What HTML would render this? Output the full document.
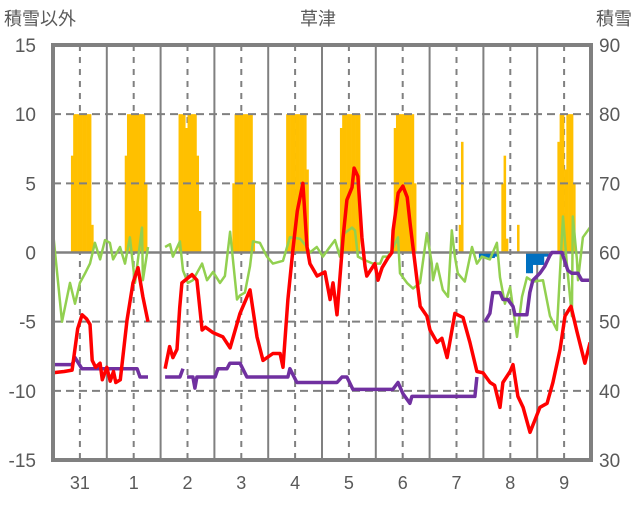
<!DOCTYPE html>
<html><head><meta charset="utf-8"><style>
body{margin:0;background:#fff}
svg text{font-family:"Liberation Sans","Noto Sans CJK JP",sans-serif;fill:#595959}
</style></head><body>
<svg id="c" width="636" height="501" viewBox="0 0 636 501" xmlns="http://www.w3.org/2000/svg">
<text x="4" y="25" font-size="18">積雪以外</text>
<text x="318" y="25" font-size="18" text-anchor="middle">草津</text>
<text x="632" y="25" font-size="18" text-anchor="end">積雪</text>
<g id="bars"></g><g id="grid"></g><g id="lines"></g><g id="axes"></g>
</svg>
<script>
const dayLabels=['31','1','2','3','4','5','6','7','8','9'];
const leftTicks=[15,10,5,0,-5,-10,-15];
const rightTicks=[90,80,70,60,50,40,30];
// orange bars: [hour, value]
const orangeHours=[8,9,10,11,12,13,14,15,16,17, 32,33,34,35,36,37,38,39,40,41, 56,57,58,59,60,61,62,63,64,65, 80,81,82,83,84,85,86,87,88,89, 104,105,106,107,108,109,110,111,112,113, 128,129,130,131,132,133,134,135,136, 152,153,154,155,156,157,158,159,160,161, 181,182, 200,201,202,207, 225,226,227,228,229,230,231,232];
const orangeVals=[7,10,10,10,10,10,10,10,10,2, 7,10,10,10,10,10,10,10,10,5, 10,10,10,9,10,10,10,10,7,3, 5,10,10,10,10,10,10,10,10,5, 10,10,10,10,10,10,10,10,10,6, 9,10,10,10,10,10,10,10,10, 9,10,10,10,10,10,10,10,10,5, 2,8, 5,7,1,2, 8,10,10,6,10,10,10,5];
const blueHours=[190,191,192,193,194,195,196,197,211,212,213,214,215,216,217,218,219,220];
const blueVals=[-0.4,-0.4,-0.4,-0.4,-0.4,-0.4,-0.4,-0.3,-1.5,-1.5,-1.5,-0.9,-0.9,-0.9,-0.9,-0.9,-0.3,-0.3];
const redT=[0,5,8.5,11,13,15,16.5,17.5,19,21,22,24,25.5,27,28,30,33,35.7,37.9,40.1,42.4,null,50,52,53.5,55.3,56.5,57.5,62,64.2,66.5,68,71.4,75.8,79,83.4,87.9,91,93.7,98.1,101.3,102.6,104.8,107,109,111.5,113.3,114.6,117.8,121.3,123.6,124.9,126.7,129.4,131.1,133.4,134.3,136,137.8,139.2,140,143.6,145,146.8,149.4,151.2,151.7,154,156.1,158,159.3,161.5,163.8,166.8,168.2,171.3,173.5,175.8,179.3,182.9,186,189.1,191.8,195,197,199.4,200.7,203.9,205.2,207.4,209.7,212.8,215,217.2,220.4,223,226.2,228.4,231.1,233.7,237.3,239.6];
const redV=[-8.7,-8.6,-8.5,-5.5,-4.5,-4.8,-5.2,-7.8,-8.3,-8,-9.2,-8.3,-9.3,-8.6,-9.4,-9.2,-4.9,-2.2,-1.1,-3.2,-5,null,-8.4,-6.8,-7.6,-7,-4,-2.2,-1.6,-2,-5.6,-5.4,-5.8,-6.1,-6.9,-4.4,-2.7,-6.1,-7.8,-7.3,-7.3,-8.3,-3.4,0.2,3,5,0.4,-0.8,-1.7,-1.4,-3.4,-2.2,-4.5,1.1,3.8,4.7,6.1,5.5,1.1,-1,-1.7,-0.8,-2,-1.1,-0.4,0,1.6,4.3,4.8,4,2.1,-0.8,-3.9,-4.6,-5.6,-6.5,-6.2,-7.6,-4.4,-4.7,-6.5,-8.6,-8.7,-9.4,-9.6,-11.2,-9.4,-8.6,-8.1,-10.4,-11.2,-13,-12.1,-11.2,-10.9,-9.4,-7,-4.6,-3.9,-5.7,-8,-6.5];
const greenT=[0,4,7.6,9.8,12,14.3,16.5,18.7,21,23.2,25.4,26.8,29.9,32.1,34.3,36.6,39.7,40.1,42.4,null,50,52.2,53.5,56.6,58,60.2,62.4,66.5,68.7,71.4,74.5,76.7,79,82.1,83.4,85.6,87.9,89.2,92.3,95.4,98.1,102.6,105.7,110.2,113.3,114.6,117.7,120.4,123.5,125.8,128,129.3,133.4,134.7,136,138.3,142.7,145.9,147.2,149.4,151.6,153.9,154.8,157.9,160.6,163.7,166.8,169,169.5,171.3,173.9,176.2,177.9,179.3,180.6,183.7,186.9,189.1,191.3,194.9,198,199.4,201.6,203.9,207,209.2,211.4,214.1,218.6,221.7,224.8,227.5,229.2,231.5,231.9,233.7,234.2,236.4,239.5];
const greenV=[1.5,-5,-2.2,-3.7,-2.2,-1.5,-0.8,0.7,-0.5,0.9,0.7,-0.5,0.4,-0.8,1.1,-2.2,1.8,-2,0.4,null,0.4,0.6,-0.3,0.8,-1.3,-2.2,-2,-0.8,-2,-1.4,-2.2,-1.7,1.5,-3.4,-3.1,-2.9,-1,0.8,0.7,-0.3,-0.8,-0.6,1.1,1,0.4,0,0.4,-0.3,0.4,0.9,-0.3,1.3,1.8,1.6,-0.3,-0.5,-0.8,-0.8,-0.3,-0.3,0.3,1.1,-1.5,-2.2,-2.6,-2.2,1.4,-0.8,-2,-0.8,-2.7,-3.2,1.6,-0.3,-1.5,-2.1,0.4,-0.8,-0.3,-0.5,0.7,-1.8,-3.7,-2.5,-6.1,-3.2,-1.8,-2.1,-2,-4.6,-5.6,2.6,-0.8,-4.6,2.6,-0.5,-2,1.1,1.8];
const purpleT=[0,8.5,9.8,12.9,37.5,38.8,42.4,null,50,56.6,58,null,59.8,62.4,63.3,64.2,72.3,73.6,77.6,78.9,83.4,86.5,104.8,105.7,108.8,126.7,128.9,131.1,133.8,151.6,153.9,156.1,159.2,160.1,188.2,189.1,null,192.7,194.9,196.2,199.4,200.7,202.9,205.2,206.1,211.4,212.7,214.1,217.2,219.4,221.7,222.6,227,229.7,231.5,234.2,235.9,239.5];
const purpleV=[-8.1,-8.1,-7.6,-8.4,-8.4,-9,-9,null,-9,-9,-8.4,null,-9,-9,-9.8,-9,-9,-8.4,-8.4,-8,-8,-9,-9,-8.4,-9.4,-9.4,-9,-9,-9.9,-9.9,-9.4,-10.2,-10.9,-10.4,-10.4,-9,null,-5,-4.4,-2.9,-2.9,-3.4,-3.4,-3.9,-4.5,-4.5,-2.9,-2,-1.5,-1,-0.2,0,0,-1.3,-1.5,-1.5,-2,-2];

const L=53,R=591,T=45,B=460,HRS=240;
const xs=h=>L+(R-L)*h/HRS;
const ys=v=>B-(v+15)*(B-T)/30;
const NS='http://www.w3.org/2000/svg';
function mk(tag,attrs,parent){const e=document.createElementNS(NS,tag);for(const k in attrs)e.setAttribute(k,attrs[k]);document.getElementById(parent).appendChild(e);return e;}
const hw=(R-L)/HRS;
orangeHours.forEach((h,i)=>{const v=orangeVals[i];
 const r=mk('rect',{x:xs(h),y:ys(v),width:hw+0.3,height:ys(0)-ys(v),fill:'#FFC000'},'bars');
 
 });
blueHours.forEach((h,i)=>{const v=blueVals[i];
 const r=mk('rect',{x:xs(h),y:ys(0),width:hw+0.3,height:ys(v)-ys(0),fill:'#0070C0'},'bars');
 
 });
// grid
for(let d=0;d<dayLabels.length;d++){
 const xc=xs(d*24+12);
 const dl=mk('line',{x1:xc,x2:xc,y1:T,y2:B,stroke:'#808080','stroke-width':2,'stroke-dasharray':'6,6'},'grid');
 
 
 if(d>0){const xb=xs(d*24);
 const sl=mk('line',{x1:xb,x2:xb,y1:T,y2:B,stroke:'#808080','stroke-width':2},'grid');
 
 }
 const t=mk('text',{x:xc,y:489,'font-size':18,'text-anchor':'middle'},'axes');t.textContent=dayLabels[d];
 
 
}
document.getElementById('grid').parentNode.insertBefore(document.getElementById('grid'),document.getElementById('bars'));
leftTicks.forEach((v,i)=>{
 if(v!==15&&v!==-15&&v!==0){const g=mk('line',{x1:L,x2:R,y1:ys(v),y2:ys(v),stroke:'#808080','stroke-width':2,'stroke-dasharray':'8,5'},'lines');
 
 }
 const t=mk('text',{x:36,y:ys(v)+7,'font-size':19,'text-anchor':'end'},'axes');t.textContent=v;
 
 
 const r=mk('text',{x:599,y:ys(v)+7,'font-size':19},'axes');r.textContent=rightTicks[i];
 
 
});
const z=mk('line',{x1:L,x2:R,y1:ys(0),y2:ys(0),stroke:'#808080','stroke-width':2.5},'lines');


function path(T_,V_){let d='',pen=false;T_.forEach((t,i)=>{if(t===null||V_[i]===null){pen=false;return;}d+=(pen?'L':'M')+xs(t).toFixed(1)+' '+ys(V_[i]).toFixed(1);pen=true;});return d;}
const pg=mk('path',{d:path(greenT,greenV),fill:'none',stroke:'#92D050','stroke-width':2.5,'stroke-linejoin':'round'},'lines');


const pp=mk('path',{d:path(purpleT,purpleV),fill:'none',stroke:'#7030A0','stroke-width':3.5,'stroke-linejoin':'round'},'lines');


const pr=mk('path',{d:path(redT,redV),fill:'none',stroke:'#FF0000','stroke-width':3.5,'stroke-linejoin':'round'},'lines');


const fr=mk('rect',{x:L,y:T,width:R-L,height:B-T,fill:'none',stroke:'#808080','stroke-width':4},'axes');


</script>
</body></html>
